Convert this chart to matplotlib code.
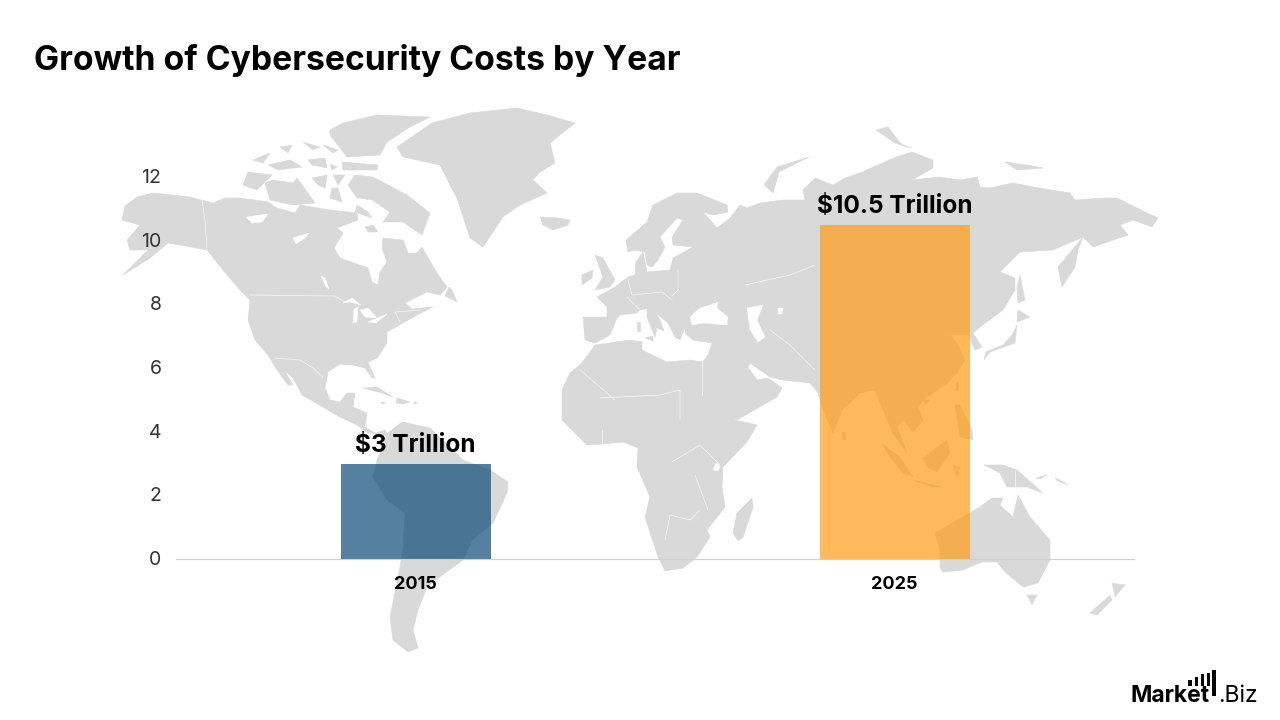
import matplotlib
matplotlib.use("Agg")
import matplotlib.pyplot as plt
from matplotlib.patches import Polygon, Rectangle
from matplotlib.transforms import ScaledTranslation

# chart values
years = ["2015", "2025"]
costs = [3, 10.5]
cost_labels = ["$3 Trillion", "$10.5 Trillion"]
bar_colors = ["#0e4a77", "#ff9c16"]
y_ticks = [0, 2, 4, 6, 8, 10, 12]

LAND = "#d9d9d9"
FONT = "Inter"

# world map outlines, in figure pixels
north_america = [
    (125, 206), (137, 197), (153, 193), (190, 197), (213, 203), (225, 198), (240, 198), (268, 202),
    (277, 208), (295, 213), (300, 205), (330, 210), (357, 213), (358, 220), (337, 228), (343, 233),
    (334, 248), (340, 258), (368, 268), (372, 282), (378, 285), (380, 272), (387, 262), (382, 248),
    (383, 238), (403, 240), (408, 253), (417, 253), (422, 247), (437, 273), (447, 287), (440, 295),
    (427, 292), (405, 303), (412, 309), (433, 307), (417, 315), (403, 323), (387, 332), (387, 343),
    (377, 358), (368, 362), (375, 378), (372, 378), (365, 368), (353, 365), (340, 364), (328, 372),
    (325, 388), (330, 400), (340, 402), (347, 393), (355, 393), (353, 407), (367, 413), (365, 427),
    (375, 433), (385, 430), (388, 436), (368, 433), (357, 425), (340, 417), (328, 410), (302, 395),
    (293, 378), (282, 368), (277, 358), (293, 385), (288, 385), (277, 370), (268, 355), (255, 340),
    (248, 320), (250, 300), (240, 290), (223, 270), (207, 250), (180, 245), (168, 243), (150, 258),
    (123, 275), (148, 250), (130, 250), (127, 240), (140, 225), (122, 220),
]
greenland = [
    (397, 147), (432, 123), (470, 113), (517, 108), (547, 115), (575, 123), (550, 143), (555, 163),
    (540, 172), (533, 180), (547, 193), (520, 205), (503, 217), (483, 247), (470, 238), (457, 198),
    (450, 185), (440, 165), (403, 157),
]
arctic_islands = [
    [(265, 183), (273, 180), (293, 183), (297, 178), (315, 203), (293, 205), (270, 200)],
    [(248, 172), (272, 175), (257, 190), (243, 185)],
    [(253, 160), (270, 153), (263, 163)],
    [(268, 165), (290, 160), (302, 167), (278, 170)],
    [(280, 147), (292, 145), (288, 153)],
    [(303, 142), (320, 147), (313, 150)],
    [(323, 145), (338, 150), (333, 153)],
    [(308, 160), (325, 158), (327, 168), (312, 165)],
    [(330, 164), (337, 167), (332, 170)],
    [(342, 162), (378, 165), (377, 170), (343, 170)],
    [(330, 130), (343, 123), (377, 115), (430, 117), (410, 127), (387, 142), (380, 155), (347, 157), (330, 135)],
    [(312, 178), (327, 175), (325, 188), (318, 185)],
    [(333, 175), (345, 175), (338, 185)],
    [(332, 188), (338, 188), (342, 202), (330, 198)],
    [(348, 185), (355, 175), (373, 177), (407, 195), (430, 213), (422, 235), (403, 222), (383, 222),
     (390, 212), (372, 200), (360, 198), (357, 198)],
    [(357, 205), (368, 212), (372, 218), (355, 212)],
    [(365, 227), (373, 225), (378, 232), (368, 232)],
    [(449, 287), (452, 290), (457, 302), (445, 296)],
]
caribbean = [
    [(363, 388), (377, 387), (393, 397), (382, 393)],
    [(397, 398), (410, 402), (402, 404), (396, 403)],
    [(381, 402), (386, 403), (382, 404)],
    [(414, 402), (418, 403), (414, 404)],
]
south_america = [
    (402, 422), (430, 428), (463, 460), (490, 470), (508, 482), (507, 493), (493, 523), (472, 540),
    (463, 560), (445, 573), (427, 587), (418, 610), (413, 630), (418, 648), (408, 652), (393, 640),
    (390, 617), (397, 583), (403, 550), (405, 513), (387, 500), (373, 477), (377, 460), (388, 433),
]
africa = [
    (562, 390), (570, 373), (582, 363), (595, 345), (630, 340), (642, 342), (642, 350), (667, 362),
    (690, 360), (703, 362), (733, 418), (735, 420), (757, 425), (747, 442), (723, 467), (722, 487),
    (725, 507), (707, 530), (710, 537), (697, 557), (683, 568), (665, 571), (658, 557), (645, 517),
    (650, 497), (637, 467), (638, 448), (623, 442), (603, 444), (587, 445), (562, 420), (562, 403),
]
madagascar = [(752, 498), (753, 507), (743, 537), (738, 541), (733, 533), (737, 513)]
eurasia = [
    (583, 317), (607, 317), (607, 307), (597, 297), (615, 287), (628, 277), (635, 275), (636, 262),
    (643, 252), (647, 272), (670, 270), (673, 258), (693, 247), (673, 245), (672, 237), (683, 220),
    (677, 218), (660, 237), (665, 247), (658, 260), (652, 267), (647, 265), (645, 252), (635, 250),
    (628, 252), (626, 240), (647, 222), (653, 205), (677, 193), (697, 193), (727, 205), (728, 212),
    (713, 215), (703, 212), (717, 228), (730, 218), (740, 205), (747, 208), (760, 203), (783, 200),
    (805, 200), (803, 190), (815, 178), (833, 185), (845, 178), (862, 172), (896, 157), (912, 152),
    (933, 160), (933, 168), (912, 180), (939, 177), (960, 180), (977, 177), (980, 187), (990, 188),
    (1013, 183), (1033, 187), (1070, 193), (1075, 200), (1103, 198), (1117, 198), (1147, 213),
    (1158, 218), (1152, 227), (1133, 220), (1120, 225), (1128, 235), (1093, 247), (1083, 237),
    (1078, 250), (1075, 267), (1062, 287), (1058, 267), (1083, 237), (1053, 250), (1020, 252),
    (1000, 272), (1015, 278), (1015, 290), (1003, 310), (980, 327), (973, 333), (982, 347),
    (975, 350), (968, 335), (950, 335), (958, 345), (965, 360), (957, 373), (947, 383), (923, 400),
    (918, 407), (923, 420), (913, 432), (903, 420), (897, 427), (907, 453), (893, 433), (880, 403),
    (875, 390), (860, 393), (842, 410), (833, 433), (822, 407), (820, 400), (818, 393), (810, 383),
    (783, 380), (770, 377), (750, 363), (748, 367), (757, 380), (768, 378), (782, 388), (777, 397),
    (737, 420), (733, 418), (718, 390), (703, 362), (708, 355), (712, 343), (693, 340), (685, 333),
    (685, 327), (680, 340), (675, 337), (668, 323), (650, 308), (640, 310), (637, 313), (620, 315),
    (617, 318), (610, 335), (595, 343), (585, 340),
]
islands = [
    [(540, 217), (558, 218), (570, 220), (568, 225), (553, 230), (543, 225)],
    [(595, 255), (603, 258), (615, 280), (610, 287), (595, 290), (603, 277)],
    [(582, 275), (593, 270), (592, 278), (582, 285)],
    [(647, 308), (653, 308), (660, 320), (664, 331), (657, 328), (655, 337), (647, 317)],
    [(645, 338), (653, 336), (653, 341)],
    [(637, 322), (640, 322), (640, 331), (637, 331)],
    [(809, 157), (777, 167), (764, 185), (773, 193), (779, 172)],
    [(876, 130), (888, 127), (900, 143), (910, 148), (895, 143)],
    [(1005, 162), (1027, 165), (1043, 168), (1017, 170)],
    [(1020, 275), (1025, 300), (1018, 303), (1017, 287)],
    [(1018, 310), (1030, 317), (1017, 322)],
    [(1017, 325), (1015, 343), (990, 352), (984, 360), (986, 352), (1003, 345), (1012, 335)],
    [(956, 382), (958, 382), (958, 390), (955, 390)],
    [(923, 400), (929, 400), (926, 405)],
    [(955, 405), (960, 405), (972, 430), (973, 440), (960, 437)],
    [(883, 445), (900, 457), (913, 477), (903, 473), (890, 457)],
    [(913, 480), (940, 487), (933, 487)],
    [(923, 458), (947, 440), (950, 453), (937, 472), (927, 467)],
    [(953, 465), (960, 467), (957, 477)],
    [(842, 432), (845, 432), (846, 440), (843, 440)],
    [(984, 465), (1003, 465), (1017, 470), (1043, 493), (1027, 487), (1007, 487), (1000, 473)],
    [(1036, 478), (1047, 475), (1040, 479)],
    [(1055, 478), (1060, 480), (1068, 485), (1058, 481)],
    [(1090, 613), (1110, 595), (1112, 600), (1097, 615)],
    [(1112, 583), (1125, 585), (1115, 597)],
    [(1027, 595), (1037, 595), (1032, 605)],
]
australia = [
    (935, 533), (963, 517), (980, 507), (992, 498), (1003, 498), (1000, 505), (1013, 517),
    (1018, 495), (1030, 517), (1050, 540), (1050, 560), (1038, 583), (1023, 587), (1005, 572),
    (997, 562), (982, 562), (963, 570), (943, 572), (940, 568), (940, 550),
]
# inland water that shows as white
water = [
    [(690, 317), (700, 308), (710, 305), (718, 302), (717, 308), (728, 317), (727, 325), (703, 323), (692, 325)],
    [(747, 308), (763, 305), (757, 320), (765, 337), (758, 342), (750, 330)],
    [(778, 308), (783, 308), (782, 314), (778, 314)],
    [(293, 238), (309, 233), (305, 238), (296, 244)],
    [(246, 217), (268, 214), (262, 222), (252, 223)],
    [(321, 276), (325, 278), (329, 289), (326, 287)],
    [(343, 303), (352, 298), (361, 305), (350, 302)],
    [(354, 309), (358, 307), (357, 322), (353, 323)],
    [(360, 310), (368, 308), (377, 318), (365, 317)],
    [(368, 322), (387, 314), (376, 323)],
    [(713, 470), (716, 463), (720, 466), (718, 471)],
]
# borders, thin white lines over the land
borders = [
    [(250, 295), (335, 296), (345, 302)],
    [(275, 358), (300, 360), (313, 368), (323, 377)],
    [(207, 250), (205, 220), (202, 200)],
    [(400, 322), (395, 312), (420, 310)],
    [(627, 297), (640, 310)],
    [(678, 270), (678, 290), (672, 296)],
    [(628, 280), (632, 295), (662, 292), (672, 300)],
    [(702, 362), (702, 395)],
    [(580, 370), (615, 400)],
    [(600, 398), (660, 395), (680, 390), (680, 420)],
    [(602, 430), (602, 444)],
    [(665, 540), (670, 515), (690, 520), (700, 510)],
    [(672, 462), (700, 445), (720, 465)],
    [(695, 475), (708, 510)],
    [(1015, 470), (1015, 487)],
    [(745, 285), (790, 275), (815, 265)],
    [(770, 330), (790, 345), (815, 370)],
]

fig = plt.figure(figsize=(12.8, 7.2), dpi=100, facecolor="white")

# background map and logo live in a pixel-sized axes behind the chart
bg = fig.add_axes([0, 0, 1, 1], zorder=0)
bg.set_xlim(0, 1280)
bg.set_ylim(720, 0)
bg.axis("off")

land = [north_america, greenland, south_america, africa, madagascar, eurasia, australia]
land += arctic_islands + caribbean + islands
for shape in land:
    bg.add_patch(Polygon(shape, closed=True, facecolor=LAND, edgecolor=LAND, linewidth=0.4))
for shape in water:
    bg.add_patch(Polygon(shape, closed=True, facecolor="white", edgecolor="white", linewidth=0.3))
for line in borders:
    xs, ys = zip(*line)
    bg.plot(xs, ys, color="white", linewidth=0.5, alpha=0.8)

# logo
for x, top in [(1188, 680), (1194.5, 677), (1200.5, 674), (1206.5, 673)]:
    bg.add_patch(Rectangle((x, top), 3.5, 686 - top, facecolor="black"))
bg.add_patch(Rectangle((1212, 670), 3.5, 26, facecolor="black"))
bg.text(1130, 702, "Market", fontsize=16.5, fontweight="bold", family=FONT, color="black", va="baseline")
bg.text(1218, 702, ".Biz", fontsize=16.5, family=FONT, color="black", va="baseline")

# chart axes: 176..1134 px wide, 177..559 px tall
ax = fig.add_axes([176 / 1280, 1 - 559 / 720, 958 / 1280, 382 / 720], zorder=1)
ax.patch.set_alpha(0)
positions = range(len(years))
ax.bar(positions, costs, width=150 / 479, color=bar_colors, alpha=0.7, linewidth=0)
ax.set_xlim(-0.5, 1.5)
ax.set_ylim(0, 12)
ax.set_yticks(y_ticks)
ax.set_xticks(list(positions))
ax.set_xticklabels(years, fontsize=13, fontweight="bold", family=FONT)
ax.tick_params(axis="x", length=0, pad=12)
ax.tick_params(axis="y", length=0, pad=10.5, labelsize=14, colors="#333333")
# y labels sit a pixel above their tick position
nudge = ScaledTranslation(0, 1 / 100, fig.dpi_scale_trans)
for label in ax.get_yticklabels():
    label.set_family(FONT)
    label.set_transform(label.get_transform() + nudge)
for side in ["top", "right", "left"]:
    ax.spines[side].set_visible(False)
ax.spines["bottom"].set_color("#d0d0d0")
ax.spines["bottom"].set_linewidth(0.8)

for pos, cost, text in zip(positions, costs, cost_labels):
    ax.annotate(text, (pos, cost), xytext=(0, 5), textcoords="offset points", ha="center", va="bottom",
                fontsize=17.6, fontweight="bold", family=FONT, color="black")

fig.text(34 / 1280, 1 - 70 / 720, "Growth of Cybersecurity Costs by Year", fontsize=24.2, fontweight="bold",
         family=FONT, color="black", va="baseline")

fig.savefig("out.png", dpi=100)
